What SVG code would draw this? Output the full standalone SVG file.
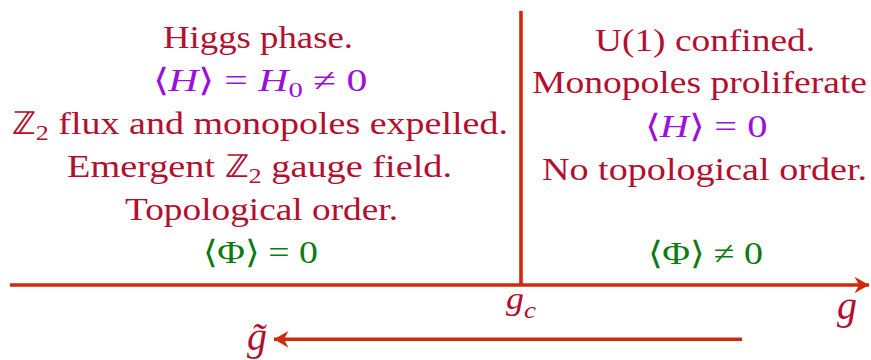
<svg xmlns="http://www.w3.org/2000/svg" width="871" height="360" viewBox="0 0 871 360">
<style>
text{font-family:"Liberation Serif","Times New Roman",serif;font-size:32px;text-anchor:middle}
.r{fill:#b3102f}
.p{fill:#9a10dc}
.gr{fill:#0f7a12}
.i{font-style:italic}
.ln{stroke:#d0290b;stroke-width:3.6;fill:none}
</style>
<defs>
<marker id="ah" markerUnits="userSpaceOnUse" markerWidth="20" markerHeight="20" viewBox="-14 -9 16 18" refX="0" refY="0" orient="auto">
<path d="M0,0 L-13,-7.5 L-9,0 L-13,7.5 Z" fill="#d0290b"/>
</marker>
</defs>
<g id="connectors">
<line class="ln" x1="10" y1="285" x2="869" y2="285" marker-end="url(#ah)"/>
<line class="ln" x1="521" y1="11" x2="521" y2="285"/>
<line class="ln" x1="742" y1="339.3" x2="274" y2="339.3" marker-end="url(#ah)"/>
</g>
<g id="higgs-phase">
<text class="r" x="258" y="48" textLength="190" lengthAdjust="spacingAndGlyphs">Higgs phase.</text>
<text class="p" x="260" y="91" textLength="215" lengthAdjust="spacingAndGlyphs">⟨<tspan class="i">H</tspan>⟩ = <tspan class="i">H</tspan><tspan style="font-size:22px" dy="6">0</tspan><tspan dy="-6"> ≠ 0</tspan></text>
<text class="r" x="260" y="134" textLength="496" lengthAdjust="spacingAndGlyphs">ℤ<tspan style="font-size:22px" dy="6">2</tspan><tspan dy="-6"> flux and monopoles expelled.</tspan></text>
<text class="r" x="259.5" y="177" textLength="385" lengthAdjust="spacingAndGlyphs">Emergent ℤ<tspan style="font-size:22px" dy="6">2</tspan><tspan dy="-6"> gauge field.</tspan></text>
<text class="r" x="261.5" y="220" textLength="273" lengthAdjust="spacingAndGlyphs">Topological order.</text>
<text class="gr" x="260.5" y="263" textLength="115" lengthAdjust="spacingAndGlyphs">⟨Φ⟩ = 0</text>
</g>
<g id="confined-phase">
<text class="r" x="705" y="51" textLength="220" lengthAdjust="spacingAndGlyphs">U(1) confined.</text>
<text class="r" x="699.5" y="93" textLength="335" lengthAdjust="spacingAndGlyphs">Monopoles proliferate</text>
<text class="p" x="706" y="137" textLength="123" lengthAdjust="spacingAndGlyphs">⟨<tspan class="i">H</tspan>⟩ = 0</text>
<text class="r" x="704.5" y="180" textLength="325" lengthAdjust="spacingAndGlyphs">No topological order.</text>
<text class="gr" x="705.5" y="264" textLength="115" lengthAdjust="spacingAndGlyphs">⟨Φ⟩ ≠ 0</text>
</g>
<g id="axis-labels">
<text class="r i" x="521" y="309" textLength="30" lengthAdjust="spacingAndGlyphs">g<tspan style="font-size:24px" dy="9">c</tspan></text>
<text class="r i" x="847" y="319" style="font-size:40px">g</text>
<text class="r i" x="257" y="350" style="font-size:40px">g̃</text>
</g>
</svg>
